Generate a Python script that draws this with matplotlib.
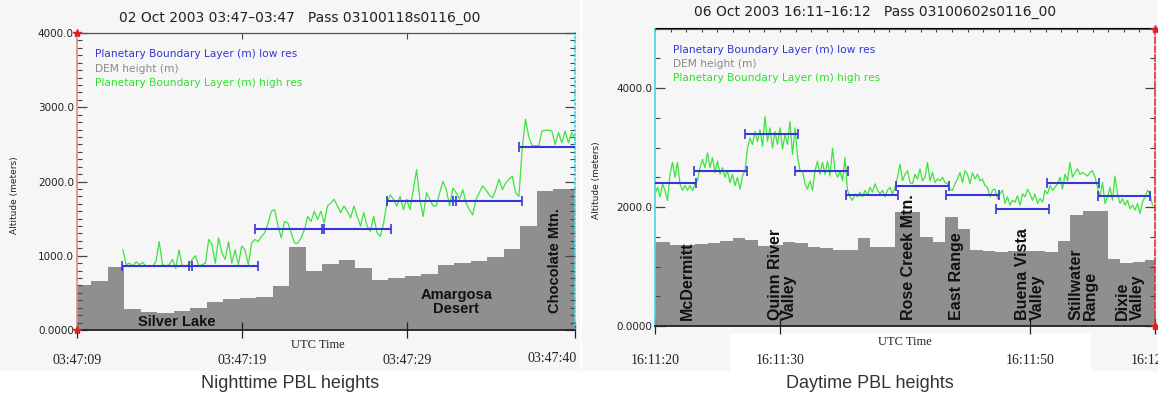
import numpy as np
import matplotlib.pyplot as plt
from matplotlib.patches import Rectangle
from matplotlib.ticker import MultipleLocator


# Nighttime pass, 02 Oct 2003 (seconds after 03:47:09)
night_dem = [608, 662, 847, 279, 248, 234, 261, 293, 378, 414, 432, 450, 595,
             1117, 801, 892, 946, 833, 667, 698, 721, 757, 878, 901, 923, 982,
             1090, 1405, 1869, 1901, 1900]
night_dem_start = -0.12     # 1 s per DEM bin
night_low_t = [4.86, 8.9, 12.9, 16.95, 20.9, 24.9, 28.9]
night_low = [856, 856, 1361, 1361, 1743, 1743, 2464]
night_high_start = 2.8      # 0.2 s per high-res sample
night_high = [
    1080, 880, 900, 860, 920, 880, 910, 860, 860, 860,
    920, 1190, 880, 860, 880, 950, 830, 1080, 860, 860,
    880, 950, 1000, 860, 880, 900, 1220, 1150, 900, 1240,
    1040, 950, 1190, 900, 1080, 880, 1130, 1080, 880, 1170,
    1220, 1190, 1260, 1310, 1440, 1600, 1620, 1400, 1240, 1460,
    1440, 1310, 1170, 1170, 1240, 1350, 1530, 1460, 1600, 1490,
    1600, 1440, 1670, 1710, 1760, 1670, 1580,
    1670, 1600, 1510, 1670, 1530, 1400, 1580, 1400, 1330, 1530,
    1310, 1260, 1440, 1710, 1820, 1760, 1670, 1800, 1620, 1760,
    1620, 1890, 2160, 1760, 1530, 1850, 1760, 1670, 1670, 1850,
    2000, 1890, 1670, 1910, 1850, 1760, 1890, 1710, 1620, 1550,
    1760, 1850, 1940, 1890, 1820, 1780, 1890, 2030, 1890, 1980,
    2030, 2070, 1850, 1800, 2450, 2840, 2600, 2480, 2480, 2480,
    2680, 2690, 2690, 2680, 2500, 2660, 2520, 2680, 2520, 2660,
    2570]
night_xticks = [0, 10, 20, 30.2]
night_xlabels = ['03:47:09', '03:47:19', '03:47:29', '03:47:40']

# Daytime pass, 06 Oct 2003 (seconds after 16:11:20)
day_dem = [1408, 1408, 1369, 1369, 1380, 1391, 1425, 1482, 1448, 1352,
           1369, 1408, 1391, 1324, 1313, 1279, 1279, 1482, 1324, 1324,
           1916, 1916, 1504, 1408, 1831, 1634, 1279, 1256, 1240, 1268,
           1256, 1268, 1240, 1425, 1859, 1932, 1932, 1127, 1054, 1070, 1110]
day_dem_start = -0.8
day_low_t = [1.2, 5.25, 9.3, 13.3, 17.35, 21.4, 25.4, 29.4, 33.45, 37.5]
day_low = [2398, 2608, 3232, 2608, 2194, 2359, 2205, 1973, 2398, 2177]
day_high_start = 0.0
day_high = [
    2220, 2330, 2170, 2390, 2280, 2110, 2550, 2750, 2500, 2750,
    2390, 2280, 2360, 2280, 2360, 2280, 2390, 2440, 2660, 2800,
    2660, 2910, 2660, 2830, 2580, 2770, 2550, 2660, 2500, 2610,
    2410, 2550, 2360, 2500, 2300, 2520, 2610, 2990, 3160, 3050,
    3270, 3100, 3300, 3020, 3520, 3100, 3330, 2990, 3270, 3050,
    3330, 2970, 3220, 3050, 3440, 2880, 3330, 2860, 2610, 2610,
    2390, 2300, 2440, 2280, 2610, 2770, 2550, 2750, 2550, 2770,
    2520, 2990, 2610, 2500, 2610, 2440, 2830, 2280, 2170, 2110,
    2220, 2170, 2250, 2170, 2280, 2190, 2330, 2250, 2390, 2280,
    2220, 2280, 2170, 2280, 2330, 2220, 2330, 2500, 2720, 2440,
    2550,
    2610, 2410, 2390, 2550, 2470, 2640, 2440, 2500, 2750, 2440,
    2580, 2410, 2470, 2440, 2500, 2410, 2390, 2300, 2280, 2390,
    2470, 2580, 2410, 2610, 2550, 2390, 2580, 2470, 2550, 2440,
    2470, 2360, 2330, 2170, 2280, 2300, 2140, 2220, 2280, 2060,
    2170, 2030, 2110, 2080, 2190, 2030, 2220, 2170, 2300, 2220,
    2110, 2220, 2060, 2140, 2080, 2280, 2220, 2360, 2280, 2330,
    2390, 2500, 2300, 2550, 2440, 2750, 2500, 2580, 2640, 2550,
    2580, 2550, 2520, 2580, 2610, 2500, 2330, 2170, 2410, 2060,
    2170, 2330, 2110, 2520, 2220, 2060, 2140, 2030, 2110, 1970,
    2030, 1950, 2060, 1890, 2080, 2170, 2280, 2220, 2030]
day_xticks = [0, 10, 30, 40]
day_xlabels = ['16:11:20', '16:11:30', '16:11:50', '16:12:00']

night_places = [('Silver Lake', 6.06, 110, 0), ('Amargosa\nDesert', 23.0, 380, 0),
                ('Chocolate Mtn.', 29.0, 940, 90)]
day_places = [('McDermitt', 2.56), ('Quinn River\nValley', 10.2),
              ('Rose Creek Mtn.', 20.25), ('East Range', 24.1),
              ('Buena Vista\nValley', 30.0), ('Stillwater\nRange', 34.25),
              ('Dixie\nValley', 38.0)]

BLUE = '#3535d8'
GREEN = '#3ee33e'
GRAY = '#8f8f8f'
BG = '#f6f6f6'
legend_rows = [('Planetary Boundary Layer (m) low res', BLUE),
               ('DEM height (m)', '#8a8a8a'),
               ('Planetary Boundary Layer (m) high res', '#2fe02f')]


def draw_pbl(ax, dem, dem_start, low_t, low, high_start, high):
    edges = dem_start + np.arange(len(dem) + 1)
    ax.stairs(dem, edges, fill=True, color=GRAY, baseline=0, zorder=1)
    t = high_start + 0.2 * np.arange(len(high))
    ax.plot(t, high, color=GREEN, lw=0.9, zorder=2)
    ax.errorbar(low_t, low, xerr=2.1, fmt='none', ecolor=BLUE,
                elinewidth=1.5, capsize=3.5, capthick=1.2, zorder=3)


def style_axes(ax, left_col, right_col, right_ls, xpad):
    ax.set_facecolor(BG)
    ax.spines['left'].set_color(left_col)
    ax.spines['left'].set_linewidth(1.2)
    ax.spines['right'].set_color(right_col)
    ax.spines['right'].set_linewidth(1.2)
    ax.spines['right'].set_linestyle(right_ls)
    ax.spines['top'].set_color('#555555')
    ax.spines['bottom'].set_color('#222222')
    ax.spines['bottom'].set_linewidth(1.3)
    ax.tick_params(axis='y', which='both', direction='in', left=True,
                   right=True, color='#444444', labelsize=7.5,
                   labelcolor='#222222', pad=2)
    ax.tick_params(axis='y', which='major', length=7, width=0.9)
    ax.tick_params(axis='y', which='minor', length=3.5, width=0.8)
    ax.tick_params(axis='x', which='major', direction='inout', length=12,
                   width=0.9, color='#222222', pad=xpad)
    for lab in ax.get_xticklabels():
        lab.set_fontfamily('Liberation Serif')
        lab.set_fontsize(10)
        lab.set_color('#222222')
    for i, (txt, col) in enumerate(legend_rows):
        ax.text(0.036, 0.928 - i * 0.048, txt, color=col, fontsize=7.7,
                transform=ax.transAxes, va='center')


fig = plt.figure(figsize=(11.58, 4.0), dpi=100)
fig.patches.append(Rectangle((0, 0.075), 0.5, 0.925, transform=fig.transFigure,
                             color=BG, zorder=-5))
fig.patches.append(Rectangle((0.503, 0.075), 0.497, 0.925, transform=fig.transFigure,
                             color=BG, zorder=-5))

# ---- nighttime panel ----
ax1 = fig.add_axes([76.7 / 1158, 70 / 400, 498.3 / 1158, 297 / 400])
draw_pbl(ax1, night_dem, night_dem_start, night_low_t, night_low,
         night_high_start, night_high)
ax1.set_xlim(0, night_xticks[-1])
ax1.set_ylim(0, 4000)
ax1.set_yticks([0, 1000, 2000, 3000, 4000],
               ['0.0000', '1000.0', '2000.0', '3000.0', '4000.0'])
ax1.yaxis.set_minor_locator(MultipleLocator(100))
ax1.set_xticks(night_xticks, night_xlabels[:-1] + [''])
style_axes(ax1, '#e08a8a', '#3fd6e6', ':', 11)
top1 = ax1.secondary_xaxis('top')
top1.set_xticks([10, 20], ['', ''])
top1.tick_params(direction='in', length=4, color='#444444')
for txt, t, h, rot in night_places:
    ax1.text(t, h, txt, rotation=rot, ha='center', va='center', fontsize=10.5,
             fontweight='bold', family='Liberation Sans', color='#111111',
             linespacing=1.0, zorder=4)
ax1.plot([0, 0], [0, 4000], ls='none', marker='*', ms=6, color='#e02020',
         clip_on=False, zorder=5)

# ---- daytime panel ----
ax2 = fig.add_axes([655 / 1158, 74 / 400, 500 / 1158, 297.5 / 400])
draw_pbl(ax2, day_dem, day_dem_start, day_low_t, day_low,
         day_high_start, day_high)
ax2.set_xlim(0, day_xticks[-1])
ax2.set_ylim(0, 5000)
ax2.set_yticks([0, 2000, 4000], ['0.0000', '2000.0', '4000.0'])
ax2.yaxis.set_minor_locator(MultipleLocator(500))
ax2.set_xticks(day_xticks, day_xlabels)
style_axes(ax2, '#48d4e4', '#e03030', '--', 14)
top2 = ax2.secondary_xaxis('top')
top2.xaxis.set_major_locator(MultipleLocator(1.25))
top2.tick_params(direction='in', length=3, color='#444444', labeltop=False)
for txt, t in day_places:
    ax2.text(t, 100, txt, rotation=90, ha='center', va='bottom', fontsize=11.5,
             fontweight='bold', family='Liberation Sans', color='#111111',
             multialignment='left', linespacing=0.95, zorder=4)
ax2.plot([40, 40], [0, 5000], ls='none', marker='*', ms=6, color='#e02020',
         clip_on=False, zorder=5)

fig.patches.append(Rectangle((730 / 1158, 8 / 400), 360 / 1158, 58 / 400,
                             transform=fig.transFigure, color='white', zorder=-4))

# titles, axis labels, captions
fig.text(300 / 1158, 1 - 18 / 400, '02 Oct 2003 03:47\u201303:47   Pass 03100118s0116_00',
         ha='center', va='center', fontsize=10, color='#222222')
fig.text(875 / 1158, 1 - 12 / 400, '06 Oct 2003 16:11\u201316:12   Pass 03100602s0116_00',
         ha='center', va='center', fontsize=10, color='#222222')
fig.text(552 / 1158, 1 - 358 / 400, night_xlabels[-1], ha='center', va='center',
         fontsize=10, family='Liberation Serif', color='#222222')
for x, y in [(15, 195), (596, 180)]:
    fig.text(x / 1158, 1 - y / 400, 'Altitude (meters)', rotation=90,
             ha='center', va='center', fontsize=6.5, color='#222222')
for x, y in [(318, 345), (905, 342)]:
    fig.text(x / 1158, 1 - y / 400, 'UTC Time', ha='center', va='center',
             fontsize=9, family='Liberation Serif', color='#222222')
fig.text(290 / 1158, 1 - 383 / 400, 'Nighttime PBL heights', ha='center',
         va='center', fontsize=13, family='Liberation Sans', color='#333333')
fig.text(870 / 1158, 1 - 383 / 400, 'Daytime PBL heights', ha='center',
         va='center', fontsize=13, family='Liberation Sans', color='#333333')

fig.savefig('out.png', dpi=100, facecolor='white')
